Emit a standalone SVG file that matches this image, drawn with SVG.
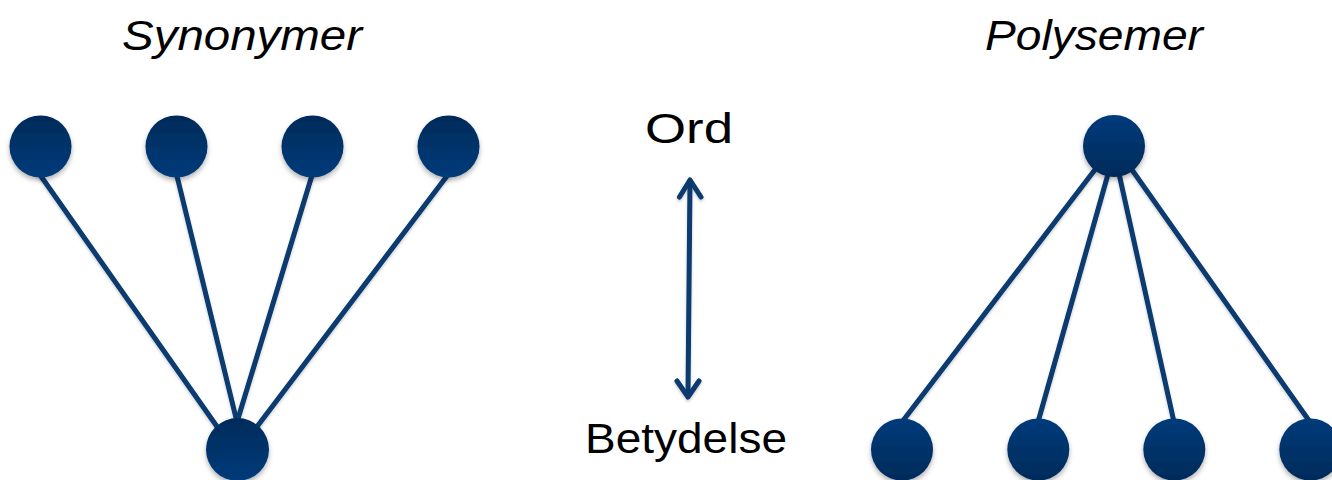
<svg xmlns="http://www.w3.org/2000/svg" width="1332" height="480" viewBox="0 0 1332 480">
  <defs>
    <linearGradient id="gDown" x1="0" y1="0" x2="0" y2="1">
      <stop offset="0" stop-color="#022b5a"/>
      <stop offset="1" stop-color="#053b7b"/>
    </linearGradient>
    <linearGradient id="gUp" x1="0" y1="0" x2="0" y2="1">
      <stop offset="0" stop-color="#053b7b"/>
      <stop offset="1" stop-color="#022b5a"/>
    </linearGradient>
    <filter id="sh" x="-30%" y="-30%" width="160%" height="170%">
      <feDropShadow dx="0" dy="3" stdDeviation="2.5" flood-color="#000" flood-opacity="0.3"/>
    </filter>
    <filter id="lsh" x="-10%" y="-10%" width="120%" height="120%">
      <feDropShadow dx="0" dy="2" stdDeviation="1.5" flood-color="#000" flood-opacity="0.2"/>
    </filter>
  </defs>
  <style>
    .lbl { font-family: "Liberation Sans", Arial, sans-serif; fill: #000; }
    .ttl { font-style: italic; font-size: 42px; }
    .mid { font-size: 42px; }
    .edge { stroke: #073a70; stroke-width: 5; fill: none; stroke-linecap: round; }
    .arr { stroke: #073a70; stroke-width: 5; fill: none; stroke-linecap: round; stroke-linejoin: round; }
    .dl { fill: url(#gDown); filter: url(#sh); }
    .dr { fill: url(#gUp); filter: url(#sh); }
  </style>

  <g id="connectors" filter="url(#lsh)">
    <line class="edge" x1="38" y1="172" x2="218" y2="428"/>
    <line class="edge" x1="176" y1="172" x2="237" y2="422"/>
    <line class="edge" x1="313" y1="172" x2="237" y2="422"/>
    <line class="edge" x1="450" y1="172" x2="256" y2="428"/>
    <line class="edge" x1="1110" y1="150" x2="902" y2="422"/>
    <line class="edge" x1="1112" y1="160" x2="1038" y2="422"/>
    <line class="edge" x1="1116" y1="160" x2="1174" y2="422"/>
    <line class="edge" x1="1118" y1="150" x2="1310" y2="422"/>
    <g id="arrow">
      <line class="arr" x1="690" y1="181" x2="688" y2="395"/>
      <path class="arr" d="M679.5,197 L690,180 L701,197"/>
      <path class="arr" d="M677,381 L688,397 L699,381"/>
    </g>
  </g>

  <g id="syn-a"><circle class="dl" cx="40.5" cy="146.5" r="31"/></g>
  <g id="syn-b"><circle class="dl" cx="176.5" cy="146.5" r="31"/></g>
  <g id="syn-c"><circle class="dl" cx="312.5" cy="146.5" r="31"/></g>
  <g id="syn-d"><circle class="dl" cx="448.5" cy="146.5" r="31"/></g>
  <g id="syn-meaning"><circle class="dl" cx="237.5" cy="449.5" r="31.5"/></g>

  <g id="poly-word"><circle class="dr" cx="1114" cy="146" r="31"/></g>
  <g id="poly-a"><circle class="dr" cx="902" cy="449.5" r="31"/></g>
  <g id="poly-b"><circle class="dr" cx="1038.3" cy="449.5" r="31"/></g>
  <g id="poly-c"><circle class="dr" cx="1174.3" cy="449.5" r="31"/></g>
  <g id="poly-d"><circle class="dr" cx="1310.3" cy="449.5" r="31"/></g>

  <g id="title-syn"><text class="lbl ttl" x="122" y="50" textLength="240" lengthAdjust="spacingAndGlyphs">Synonymer</text></g>
  <g id="title-poly"><text class="lbl ttl" x="985" y="50" textLength="218" lengthAdjust="spacingAndGlyphs">Polysemer</text></g>
  <g id="label-ord"><text class="lbl mid" x="645" y="143" textLength="88" lengthAdjust="spacingAndGlyphs">Ord</text></g>
  <g id="label-betydelse"><text class="lbl mid" x="585" y="453" textLength="202" lengthAdjust="spacingAndGlyphs">Betydelse</text></g>
</svg>
